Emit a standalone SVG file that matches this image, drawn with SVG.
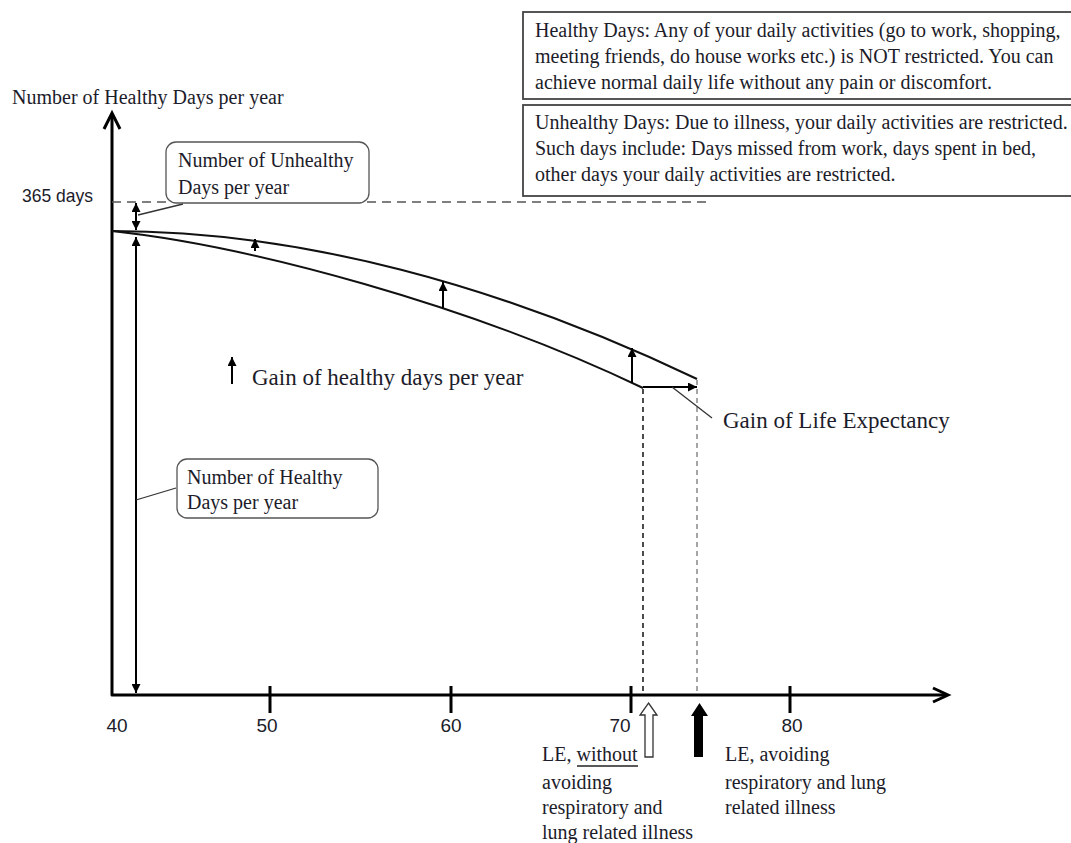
<svg xmlns="http://www.w3.org/2000/svg" width="1071" height="843" viewBox="0 0 1071 843">
<defs>
<marker id="ah" viewBox="0 0 10 10" refX="10" refY="5" markerWidth="10" markerHeight="9" markerUnits="userSpaceOnUse" orient="auto-start-reverse">
<path d="M0,0 L10,5 L0,10 z" fill="#000"/>
</marker>
</defs>
<style>
.serif{font-family:"Liberation Serif","Times New Roman",serif;font-size:20px;fill:#1c1c2a}
.big{font-size:23px}
.sans{font-family:"Liberation Sans",Arial,sans-serif;font-size:19px;fill:#1c1c2a}
.axis{stroke:#000;stroke-width:3;fill:none}
.curve{stroke:#111;stroke-width:2;fill:none}
.arr{stroke:#000;stroke-width:2;fill:none}
.lead{stroke:#333;stroke-width:1.3;fill:none}
.box{fill:#fff;stroke:#444;stroke-width:1.8}
.rbox{fill:#fff;stroke:#555;stroke-width:1.3}
</style>
<rect width="1071" height="843" fill="#fff"/>

<g id="def-healthy">
<rect class="box" x="523" y="12" width="560" height="87"/>
<text class="serif" x="535" y="37">Healthy Days: Any of your daily activities (go to work, shopping,</text>
<text class="serif" x="535" y="63">meeting friends, do house works etc.) is NOT restricted. You can</text>
<text class="serif" x="535" y="89">achieve normal daily life without any pain or discomfort.</text>
</g>
<g id="def-unhealthy">
<rect class="box" x="523" y="105" width="560" height="91"/>
<text class="serif" x="535" y="129">Unhealthy Days: Due to illness, your daily activities are restricted.</text>
<text class="serif" x="535" y="155">Such days include: Days missed from work, days spent in bed,</text>
<text class="serif" x="535" y="181">other days your daily activities are restricted.</text>
</g>

<g id="axes">
<path class="axis" d="M112,114 V695 H946" stroke-linejoin="round"/>
<polyline class="axis" points="104,129 112,113 120,129"/>
<polyline class="axis" points="933,688 948,695 933,702"/>
<line class="axis" x1="270" y1="686" x2="270" y2="713"/>
<line class="axis" x1="451" y1="686" x2="451" y2="713"/>
<line class="axis" x1="631" y1="686" x2="631" y2="713"/>
<line class="axis" x1="790" y1="686" x2="790" y2="713"/>
<text class="serif" x="12" y="104">Number of Healthy Days per year</text>
<text class="sans" x="22" y="202" textLength="71" lengthAdjust="spacingAndGlyphs">365 days</text>
<text class="sans" x="117" y="732" text-anchor="middle">40</text>
<text class="sans" x="267" y="732" text-anchor="middle">50</text>
<text class="sans" x="451" y="732" text-anchor="middle">60</text>
<text class="sans" x="620" y="732" text-anchor="middle">70</text>
<text class="sans" x="792" y="732" text-anchor="middle">80</text>
</g>

<g id="curves">
<path class="curve" d="M112,231 C300,231 500,285 697,379"/>
<path class="curve" d="M112,231 C250,246 470,305 643,388"/>
</g>

<g id="connectors">
<line x1="112" y1="202" x2="708" y2="202" stroke="#555" stroke-width="1.5" stroke-dasharray="9 6"/>
<line x1="643" y1="389" x2="643" y2="694" stroke="#111" stroke-width="1.5" stroke-dasharray="5 4"/>
<line x1="697" y1="380" x2="697" y2="694" stroke="#888" stroke-width="1.5" stroke-dasharray="5 4"/>
<line class="arr" x1="136" y1="216" x2="136" y2="203" marker-end="url(#ah)"/>
<line class="arr" x1="136" y1="216" x2="136" y2="230" marker-end="url(#ah)"/>
<line class="arr" x1="136" y1="237" x2="136" y2="693" marker-start="url(#ah)" marker-end="url(#ah)"/>
<line class="arr" x1="255" y1="251" x2="255" y2="239" marker-end="url(#ah)"/>
<line class="arr" x1="443" y1="308" x2="443" y2="282" marker-end="url(#ah)"/>
<line class="arr" x1="632" y1="383" x2="632" y2="348" marker-end="url(#ah)"/>
<line class="arr" x1="643" y1="387" x2="697" y2="387" marker-end="url(#ah)"/>
<line class="arr" x1="232" y1="384" x2="232" y2="357" marker-end="url(#ah)"/>
<line class="lead" x1="138" y1="215" x2="183" y2="204"/>
<line class="lead" x1="136" y1="500" x2="176" y2="488"/>
<line class="lead" x1="672" y1="387" x2="712" y2="418"/>
</g>

<g id="label-unhealthy">
<rect class="rbox" x="166" y="142" width="203" height="61" rx="10"/>
<text class="serif" x="178" y="167">Number of Unhealthy</text>
<text class="serif" x="178" y="194">Days per year</text>
</g>
<g id="label-healthy">
<rect class="rbox" x="177" y="459" width="201" height="59" rx="10"/>
<text class="serif" x="187" y="484">Number of Healthy</text>
<text class="serif" x="187" y="509">Days per year</text>
</g>
<g id="legend-gain">
<text class="serif big" x="252" y="385">Gain of healthy days per year</text>
</g>
<g id="label-le-gain">
<text class="serif big" x="723" y="428">Gain of Life Expectancy</text>
</g>

<g id="le-without">
<polygon points="648.5,703 657,715 653,715 653,757 645,757 645,715 640,715" fill="#fff" stroke="#333" stroke-width="1.3"/>
<text class="serif" x="542" y="761">LE, <tspan>without</tspan></text>
<line x1="577" y1="766" x2="638" y2="766" stroke="#222" stroke-width="1.3"/>
<text class="serif" x="542" y="789">avoiding</text>
<text class="serif" x="542" y="814">respiratory and</text>
<text class="serif" x="542" y="839">lung related illness</text>
</g>
<g id="le-avoiding">
<polygon points="699.5,703 708,716 703,716 703,757 694,757 694,716 691,716" fill="#000"/>
<text class="serif" x="725" y="761">LE, avoiding</text>
<text class="serif" x="725" y="789">respiratory and lung</text>
<text class="serif" x="725" y="814">related illness</text>
</g>
</svg>
